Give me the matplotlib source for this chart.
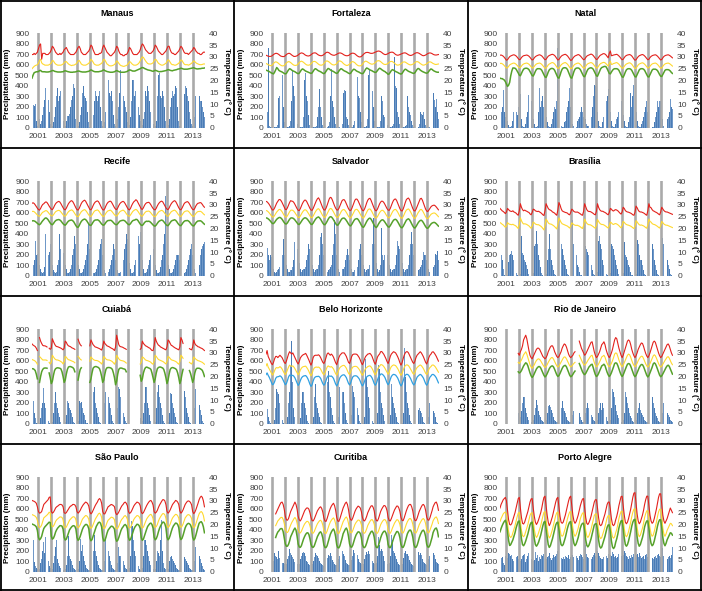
import numpy as np
import matplotlib.pyplot as plt
from matplotlib.lines import Line2D

plt.rcParams['font.family'] = ['Liberation Sans', 'DejaVu Sans']


def series(text):
    return np.array([np.nan if v == '-' else float(v) for v in text.split()])


# monthly values, one row per year (Jan 2001 .. Jun 2014), '-' = missing

MANAUS_RAIN = """
350 220 210 230 60 20 10 80 40 60 120 200
260 380 380 260 150 40 10 20 50 100 200 300
380 250 300 350 200 60 15 20 60 110 110 130
200 260 300 420 380 80 20 15 50 120 200 330
400 300 280 250 150 50 10 15 60 120 250 350
300 250 300 350 200 60 20 20 50 150 300 450
330 300 350 250 120 40 15 20 80 200 330 550
380 300 250 200 150 50 20 30 100 250 450 450
300 350 300 200 120 60 20 30 80 150 350 300
400 350 250 150 100 40 15 20 60 300 500 520
300 280 350 300 200 60 20 25 80 200 280 350
300 320 400 380 200 60 20 30 100 200 320 400
380 300 250 150 80 40 15 30 100 300 530 430
300 250 250 200 150 100
"""
MANAUS_TMAX = """
31 31 31.5 31 31.5 32 33.5 35 35.5 29 31.5 31.5
31.5 31 31 31 31.5 32 33 34.5 34 33 32 31.5
31 31 31.5 31 31.5 32 33 33.5 34 33 32 31.5
31 31 31 31 31.5 32 33 34 34.5 33.5 32 31.5
31 31 31 31.5 32 32.5 33.5 35 34.5 33 32 31
31 31 31 31.5 31.5 32 34 35 34 33 32 31.5
31 30.5 30.5 31 31.5 32 33 34.5 34 32.5 31.5 31
31 30.5 30.5 31 31 31.5 32.5 34 33.5 32.5 31.5 31
31 31 31 31.5 32 33 34.5 35.5 35 34 33 32.5
32 31.5 31.5 31.5 32 32.5 33.5 35 34.5 33.5 32.5 32
31.5 31 31 31.5 32 32.5 33.5 34.5 34.5 33 32 31.5
31.5 31 31 31.5 32 32.5 33.5 34.5 34 33 32 31.5
31.5 31.5 31 31.5 32 32.5 33 34 33.5 32.5 32 31.5
31.5 31 31 31.5 32 32
"""
MANAUS_TMEAN = """
25 25.5 26 26.3 26.5 26.7 27.3 28.5 29 27.5 27 26.8
26.5 26.5 26.5 26.5 26.7 27 27.5 28.5 28.3 27.5 27 26.7
26.5 26.5 26.5 26.5 26.7 27 27.5 28 28 27.5 27 26.7
26.5 26.3 26.5 26.5 26.7 27 27.5 28.3 28.5 27.8 27 26.7
26.5 26.5 26.5 26.7 27 27.3 28 29 28.5 27.8 27 26.7
26.5 26.5 26.5 26.7 27 27.3 28 29 28.7 27.8 27 26.7
26.3 26.2 26.2 26.3 26.5 26.8 27.3 28.3 28 27.3 26.7 26.3
26.2 26 26 26.2 26.3 26.7 27.2 28 27.8 27.2 26.8 26.5
26.5 26.5 26.7 27 27.5 28.3 29.3 30 29.8 29 28.3 27.7
27.2 27 27 27 27.2 27.5 28.3 29 28.8 28 27.3 27
26.7 26.5 26.5 26.7 27 27.3 28 28.8 28.5 27.7 27 26.7
26.7 26.5 26.5 26.7 27 27.3 28 28.7 28.5 27.7 27 26.7
26.7 26.7 26.5 26.7 27 27.3 27.8 28.3 28 27.5 27.2 27
26.8 26.7 26.7 26.8 27 27
"""
MANAUS_TMIN = """
21 22.3 23.3 23.5 23.7 23.7 23.8 24.2 24.3 23.8 23.7 23.7
23.7 23.6 23.6 23.6 23.7 23.8 24 24.2 24.2 23.9 23.8 23.7
23.6 23.6 23.6 23.6 23.7 23.7 24 24.1 24 23.8 23.7 23.6
23.5 23.5 23.5 23.6 23.6 23.7 23.9 24 24 23.8 23.7 23.6
23.6 23.6 23.6 23.7 23.8 23.9 24.2 24.5 24.3 24 23.8 23.7
23.7 23.7 23.7 23.8 23.9 24 24.3 24.5 24.2 24 23.8 23.7
23.6 23.5 23.5 23.5 23.6 23.7 24 24.2 24 23.8 23.6 23.5
23.5 23.5 23.5 23.6 23.7 23.9 24.2 24.5 24.4 24.2 24 24
24 24.2 24.4 24.6 24.8 25 25.3 25.5 25.4 25.1 24.9 24.7
24.5 24.4 24.3 24.2 24 23.9 24.1 24.3 24.2 24 23.8 23.7
23.8 23.8 23.9 24 24.1 24.2 24.4 24.6 24.5 24.3 24.2 24.1
24.3 24.4 24.5 24.6 24.8 24.9 25 25.2 25.1 24.9 24.8 24.8
24.8 24.8 24.9 25 25.1 25.2 25.3 25.4 25.2 25 24.9 24.9
25 25 25.1 25.2 25.2 25.3
"""

FORTALEZA_RAIN = """
100 150 760 20 10 5 0 0 5 5 10 30
280 300 350 500 200 50 10 5 5 10 20 60
250 550 400 300 150 40 10 5 5 10 10 100
450 520 300 250 120 30 10 5 5 5 10 20
100 200 370 200 100 30 10 5 5 5 20 50
300 560 250 200 100 40 10 5 5 5 10 40
330 360 350 100 80 30 10 5 5 10 30 60
300 480 300 280 150 50 15 5 5 10 20 80
500 550 300 350 200 60 20 5 5 5 10 60
300 250 120 100 60 30 10 5 5 10 20 40
670 400 380 150 100 40 10 5 5 10 20 30
300 200 150 120 60 30 10 5 5 5 10 40
150 130 120 150 80 30 10 5 5 10 60 100
330 260 200 270 150 80
"""
FORTALEZA_TMAX = """
30.7 30.5 30.3 30.2 30.2 30.3 30.6 31 31.3 31.5 31.5 31.3
31 30.6 30.3 30.2 30.1 30.2 30.5 31 31.3 31.5 31.5 31.2
30.8 30.5 30.2 30.2 30.3 30.5 30.8 31.2 31.5 31.7 31.6 31.4
31 30.7 30.5 30.4 30.4 30.6 30.9 31.3 31.6 31.7 31.7 31.5
31.1 30.8 30.6 30.5 30.5 30.7 31 31.4 31.8 32 31.9 31.7
31.3 31 30.8 30.7 30.7 30.9 31.1 31.4 31.6 31.7 31.6 31.4
31.1 30.8 30.6 30.5 30.5 30.6 30.9 31.3 31.5 31.6 31.5 31.3
30.9 30.5 30.2 30 30 30.2 30.6 31.1 31.5 31.8 31.9 31.9
31.8 31.6 31.5 31.5 31.6 31.8 32 32.2 32.4 32.5 32.4 32.2
31.9 31.5 31.2 31 31 31.2 31.4 31.7 31.9 32 32 31.8
31.4 31 30.8 30.7 30.8 31 31.2 31.4 31.6 31.7 31.7 31.5
31.2 30.9 30.7 30.6 30.7 30.9 31.2 31.5 31.7 31.8 31.7 31.5
31.2 30.9 30.6 30.5 30.6 30.8 31.1 31.4 31.6 31.7 31.6 31.4
31.1 30.9 30.8 30.8 30.9 31
"""
FORTALEZA_TMEAN = """
27.2 27 26.7 26.5 26.3 26.3 26.6 27.2 27.7 27.9 27.8 27.5
27.1 26.7 26.4 26.2 26.2 26.4 26.8 27.4 27.8 28 27.9 27.6
27.2 26.8 26.5 26.4 26.4 26.6 27 27.6 28 28.2 28 27.7
27.3 26.9 26.6 26.5 26.5 26.7 27.1 27.6 28 28.1 28 27.7
27.3 26.9 26.6 26.5 26.5 26.7 27.2 27.8 28.2 28.3 28.1 27.8
27.4 27 26.7 26.6 26.6 26.8 27.2 27.8 28.2 28.3 28.1 27.8
27.3 26.9 26.6 26.4 26.4 26.6 27 27.5 27.9 28 27.8 27.5
27 26.6 26.3 26.2 26.2 26.4 26.9 27.5 28 28.2 28.1 27.8
27.5 27.2 27 26.9 27 27.2 27.6 28 28.3 28.4 28.3 28
27.6 27.2 26.9 26.8 26.8 27 27.3 27.7 28 28.1 28 27.7
27.3 26.9 26.6 26.5 26.6 26.8 27.1 27.5 27.8 27.9 27.8 27.5
27.2 26.9 26.7 26.6 26.7 26.9 27.2 27.6 27.9 28 27.9 27.6
27.2 26.9 26.6 26.5 26.6 26.8 27.1 27.5 27.8 27.9 27.8 27.5
27.2 27 26.8 26.8 26.9 27
"""
FORTALEZA_TMIN = """
24.4 24.2 24 23.8 23.5 23.2 23 22.8 23.5 24.5 25.5 25
24.3 24 23.8 23.6 23.3 23 22.8 23 23.8 24.5 25 24.8
24.4 24.1 23.9 23.7 23.4 23.1 22.9 23.1 23.8 24.5 24.9 24.7
24.3 24 23.8 23.6 23.4 23.2 23 23.2 23.9 24.6 25 24.8
24.4 24.1 23.9 23.7 23.4 23.1 22.9 23.2 23.9 24.6 25.1 24.9
24.5 24.2 24 23.8 23.5 23.2 23 23.3 24 24.6 25 24.8
24.4 24.1 23.9 23.7 23.4 23.1 22.9 23.1 23.8 24.4 24.8 24.6
24.2 23.9 23.7 23.5 23.2 23 22.9 23.2 24 24.8 25.3 25.1
24.8 24.5 24.3 24.1 23.8 23.6 23.4 23.6 24.2 24.8 25.2 25
24.6 24.3 24 23.8 23.4 23.1 22.6 22.8 23.5 24.2 24.6 24.4
24.1 23.8 23.6 23.4 23.1 22.9 22.7 23 23.7 24.4 24.8 24.6
24.2 23.9 23.7 23.5 23.3 23.1 23 23.3 24 24.7 25.1 24.9
24.4 24.1 23.8 23.6 23.4 23.2 23.1 23.3 23.9 24.5 24.9 24.7
24.3 24 23.8 23.6 23.5 23.5
"""

NATAL_RAIN = """
100 150 200 360 150 100 80 60 30 10 10 20
60 150 480 150 120 200 150 320 80 20 10 10
40 100 150 310 200 250 150 80 40 10 10 20
150 380 200 250 300 200 180 100 50 20 10 10
40 80 150 200 180 250 760 120 60 20 10 10
50 60 150 200 250 380 200 80 40 20 10 10
60 80 100 150 200 150 100 100 80 40 20 20
80 100 200 300 410 400 250 150 60 20 10 10
50 100 150 250 300 370 300 150 60 20 10 10
40 80 100 150 200 250 200 120 60 20 10 10
50 100 330 200 300 410 410 150 60 20 10 10
40 60 100 150 200 250 150 100 50 20 10 10
50 100 150 250 200 250 250 150 80 20 10 60
80 100 150 270 200 180
"""
NATAL_TMAX = """
30.7 30.8 30.6 30.3 29.8 29.2 28.6 28.8 29.5 30.1 30.4 30.6
30.8 30.9 30.7 30.4 29.9 29.3 28.8 29 29.7 30.2 30.5 30.6
30.7 30.8 30.6 30.3 29.8 29.2 28.7 28.9 29.6 30.1 30.4 30.6
30.8 30.9 30.7 30.4 29.9 29.3 28.8 29 29.7 30.3 30.6 30.8
31 31.1 30.9 30.6 30 29.3 28.7 28.9 29.6 30.2 30.6 30.8
31 31.1 30.8 30.4 29.8 29.1 28.5 28.7 29.4 30 30.4 30.6
30.8 31 30.8 30.4 29.9 29.3 28.8 29 29.7 30.3 30.6 30.8
31 31.2 31 30.6 30 29.4 28.9 29.1 29.8 30.4 30.8 31
31.3 31.4 31.2 30.8 30.2 29.6 31.5 32.5 30.5 30.6 30.8 30.9
31 31.1 30.8 30.4 29.9 29.3 28.8 29 29.7 30.3 30.6 30.8
30.9 31 30.8 30.4 29.8 29.1 28.6 28.8 29.5 30.1 30.5 30.7
30.9 31 30.8 30.4 29.9 29.3 28.8 29 29.7 30.2 30.5 30.7
30.8 30.9 30.7 30.3 29.8 29.2 28.7 28.9 29.6 30.2 30.5 30.7
30.8 30.9 30.7 30.4 30 29.6
"""
NATAL_TMEAN = """
27.2 27.3 27.1 26.8 26.3 25.8 25.3 25.4 26 26.6 26.9 27.1
27.3 27.4 27.2 26.9 26.4 25.9 25.4 25.5 26.1 26.7 27 27.2
27.3 27.4 27.2 26.9 26.4 25.8 25.3 25.4 26 26.6 27 27.2
27.3 27.4 27.2 26.8 26.3 25.7 25.2 25.3 25.9 26.6 27 27.2
27.5 27.6 27.4 27 26.4 25.7 25.1 25.2 25.9 26.6 27 27.3
27.5 27.6 27.3 26.9 26.3 25.6 25 25.1 25.8 26.5 26.9 27.1
27.3 27.4 27.2 26.8 26.3 25.7 25.2 25.3 26 26.7 27.1 27.3
27.5 27.6 27.4 27 26.4 25.8 25.3 25.4 26.1 26.8 27.2 27.4
27.6 27.7 27.5 27.1 26.6 26.1 27.3 28.2 26.8 26.9 27.2 27.3
27.5 27.6 27.3 26.9 26.3 25.7 25.2 25.3 26 26.6 27 27.2
27.4 27.5 27.3 26.9 26.3 25.6 25.1 25.2 25.9 26.6 27 27.2
27.4 27.5 27.3 26.9 26.4 25.8 25.3 25.4 26 26.6 27 27.2
27.3 27.4 27.2 26.8 26.3 25.7 25.2 25.3 26 26.6 27 27.2
27.3 27.4 27.2 26.9 26.5 26.1
"""
NATAL_TMIN = """
21 20.8 20.8 20.5 20.2 19.5 18.5 17.5 18 19.2 22 24
25.3 25.3 25.2 24.8 24 23.2 22.3 22 23 24 24.8 25.1
25.2 25.2 25 24.6 23.8 22.9 22.1 21.9 22.8 23.9 24.7 25
25 25 24.8 24.3 23.4 22.4 21.5 21.3 22.3 23.6 24.5 24.9
25.1 25.1 24.9 24.3 23.3 22.2 21.2 21 22.2 23.7 24.8 25.3
25.4 25.4 25.2 24.6 23.5 22.3 21.2 21 22.3 23.8 24.8 25.2
25.3 25.3 25.1 24.6 23.7 22.7 21.8 21.6 22.6 23.8 24.7 25.1
25.3 25.4 25.2 24.8 23.9 22.9 22 21.8 22.9 24.1 25 25.5
25.7 25.9 26 25.8 25 24 23 22.8 23.6 24.3 24.8 25
25 25 24.8 24.3 23.4 22.4 21.5 21.4 22.4 23.6 24.5 24.9
25 25 24.8 24.3 23.4 22.4 21.6 21.5 22.5 23.6 24.5 24.9
25 25 24.8 24.3 23.4 22.4 21.6 21.5 22.5 23.6 24.4 24.8
24.8 24.8 24.6 24.2 23.4 22.5 21.8 21.7 22.6 23.6 24.3 24.6
24.6 24.6 24.4 24 23.4 23
"""

RECIFE_RAIN = """
60 100 150 330 200 210 120 100 60 40 30 40
80 400 150 200 230 300 200 100 50 40 30 40
100 150 400 250 200 220 150 100 60 30 30 40
60 100 200 250 380 300 200 100 60 30 30 40
60 100 150 200 300 490 250 100 60 30 30 40
60 100 150 250 300 350 200 100 50 30 30 40
60 100 150 200 300 250 150 100 50 30 30 40
80 150 250 300 400 350 200 120 60 30 30 40
100 150 200 380 300 420 300 150 60 30 30 40
60 100 150 200 250 250 200 100 50 30 30 40
80 150 200 300 400 760 250 100 60 30 30 40
60 100 150 200 200 200 150 100 50 30 30 40
60 100 150 200 250 300 200 100 60 30 30 40
100 200 250 280 300 320
"""
RECIFE_TMAX = """
30.7 30.9 30.6 30 29.3 28.6 28 27.8 28.5 29.5 30.2 30.5
31 31.3 31 30.3 29.5 28.8 28.2 28 28.7 29.7 30.5 31
31.3 31.5 31.2 30.5 29.6 28.8 28.1 27.9 28.6 29.6 30.5 31.1
31.6 31.8 31.4 30.6 29.6 28.7 28 27.8 28.5 29.6 30.6 31.3
31.7 32 31.6 30.7 29.7 28.8 28.1 27.9 28.6 29.7 30.6 31.2
31.5 31.7 31.4 30.6 29.6 28.7 28 27.8 28.5 29.6 30.5 31.1
31.4 31.6 31.3 30.5 29.6 28.8 28.2 28 28.7 29.7 30.5 31
31.3 31.5 31.2 30.5 29.6 28.8 28.1 27.9 28.6 29.7 30.6 31.3
31.7 32.2 31.8 30.9 29.9 29 28.3 28.1 28.8 29.8 30.5 30.9
31 31.1 30.7 30 29.2 28.5 28 27.9 28.6 29.6 30.4 31
31.4 31.6 31.3 30.5 29.6 28.8 28.2 28 28.7 29.7 30.5 31.1
31.5 31.8 31.5 30.7 29.7 28.8 28.1 27.9 28.6 29.6 30.5 31
31.2 31.4 31.1 30.4 29.5 28.7 28.1 27.9 28.6 29.6 30.3 30.7
30.8 31 30.8 30.2 29.5 29
"""
RECIFE_TMEAN = """
27.2 27.3 27.1 26.7 26.2 25.7 25.3 25.2 25.7 26.4 26.9 27.1
27.4 27.6 27.4 26.9 26.3 25.8 25.4 25.3 25.8 26.5 27.1 27.4
27.6 27.7 27.5 27 26.4 25.8 25.3 25.2 25.7 26.5 27.1 27.5
27.7 27.9 27.6 27 26.3 25.6 25.1 25 25.6 26.4 27.1 27.5
27.8 28 27.7 27.1 26.4 25.7 25.2 25.1 25.7 26.5 27.2 27.6
27.7 27.9 27.6 27 26.3 25.7 25.2 25.1 25.7 26.5 27.1 27.5
27.6 27.8 27.5 27 26.4 25.8 25.4 25.3 25.8 26.5 27.1 27.4
27.6 27.8 27.5 27 26.3 25.7 25.3 25.2 25.8 26.5 27.2 27.6
27.9 28.1 27.8 27.2 26.5 25.8 25.3 25.2 25.8 26.5 27 27.3
27.3 27.4 27.1 26.6 26 25.5 25.1 25 25.6 26.3 26.9 27.3
27.5 27.7 27.5 27 26.4 25.8 25.3 25.2 25.8 26.5 27.1 27.4
27.6 27.8 27.5 27 26.3 25.7 25.2 25.1 25.7 26.4 27 27.3
27.4 27.5 27.3 26.8 26.2 25.6 25.2 25.1 25.7 26.4 26.9 27.2
27.2 27.3 27.1 26.7 26.2 25.8
"""
RECIFE_TMIN = """
23.2 23.3 23.2 23 22.6 22.2 21.8 21.6 22 22.7 23.3 23.8
24.3 24.5 24.2 23.7 23 22.3 21.8 21.6 22.1 22.8 23.3 23.6
23.7 23.8 23.6 23.2 22.6 22 21.6 21.4 21.9 22.6 23.1 23.4
23.5 23.6 23.3 22.8 22 21.2 20.6 20.5 21.2 22.2 23 23.5
23.8 24 23.8 23.3 22.6 21.9 21.4 21.3 21.9 22.7 23.3 23.6
23.6 23.7 23.5 23.1 22.5 21.9 21.5 21.4 21.9 22.6 23.1 23.4
23.4 23.5 23.4 23 22.5 22 21.7 21.6 22 22.6 23.1 23.3
23.4 23.5 23.4 23.1 22.6 22.1 21.7 21.6 22.1 22.8 23.3 23.5
23.6 23.9 23.8 23.3 22.6 21.9 21.4 21.3 21.8 22.5 22.9 23.1
23 23.1 22.9 22.5 22 21.5 21.1 21 21.5 22.2 22.8 23.2
23.4 23.6 23.4 22.9 22.3 21.7 21.3 21.2 21.8 22.5 23.1 23.4
23.5 23.7 23.5 23 22.3 21.7 21.3 21.2 21.8 22.5 23 23.3
23.3 23.4 23.2 22.8 22.2 21.6 21.2 21.1 21.7 22.4 22.9 23.2
23.2 23.3 23.1 22.7 22.2 21.8
"""

SALVADOR_RAIN = """
100 260 200 150 200 180 120 60 40 30 40 50
60 80 120 200 350 200 150 100 60 40 40 50
50 80 150 320 300 250 200 120 60 40 50 60
60 80 150 200 300 250 180 100 60 40 50 60
60 100 200 370 410 300 200 100 60 40 50 60
80 100 200 300 530 400 200 120 60 40 50 60
60 80 150 200 250 200 150 100 60 40 40 50
50 80 150 250 300 200 150 100 60 40 50 60
60 100 200 300 550 300 200 120 60 40 50 100
450 200 150 200 250 200 150 100 60 40 50 60
60 100 200 330 280 250 200 120 60 40 50 60
60 100 200 300 420 300 200 100 60 40 50 60
80 100 150 230 200 200 150 100 60 40 50 60
80 100 210 200 240 150
"""
SALVADOR_TMAX = """
31.5 31.3 30.8 30.2 29.4 28.5 27.8 27.9 28.7 29.8 30.8 31.5
32.2 32.3 31.8 31 30 29 28.1 28 28.8 29.9 31 31.8
31.6 31.5 31 30.2 29.3 28.4 27.7 27.6 28.4 29.5 30.6 31.4
32 32 31.4 30.5 29.5 28.5 27.8 27.7 28.5 29.6 30.8 31.8
32.6 33 32.2 31 29.8 28.7 27.9 27.8 28.6 29.8 31.2 32.5
33.2 33 32 30.8 29.6 28.6 27.9 27.8 28.5 29.6 30.8 31.8
32.2 32.2 31.5 30.5 29.4 28.4 27.7 27.6 28.4 29.6 30.9 32
32.5 32.4 31.7 30.7 29.6 28.5 27.7 27.5 28.3 29.5 30.9 32
32.6 32.8 32 30.8 29.6 28.5 27.7 27.5 28.2 29.3 30.4 31.2
31.6 31.5 31 30.2 29.3 28.4 27.8 27.7 28.5 29.7 30.9 31.9
32.4 32.5 31.8 30.7 29.5 28.4 27.6 27.4 28.2 29.5 31 32.2
32.7 32.9 32.2 31 29.7 28.5 27.6 27.4 28.1 29.2 30.4 31.3
32.6 32.8 32 30.7 29.4 28.2 27.4 27.2 27.8 28.5 29.2 29.6
29.8 29.9 29.6 29.1 28.5 27.9
"""
SALVADOR_TMEAN = """
27.6 27.5 27.1 26.6 26 25.3 24.8 24.9 25.5 26.3 27 27.5
28 28.1 27.7 27.1 26.3 25.5 24.9 24.8 25.4 26.3 27.1 27.7
27.8 27.7 27.3 26.7 26 25.3 24.7 24.6 25.3 26.1 26.9 27.5
27.9 27.9 27.5 26.8 26.1 25.3 24.7 24.6 25.3 26.2 27 27.7
28.2 28.4 27.9 27.1 26.2 25.4 24.8 24.7 25.3 26.2 27.2 28
28.5 28.4 27.8 27 26.1 25.3 24.8 24.7 25.3 26.1 27 27.7
28 28 27.5 26.8 26 25.2 24.6 24.5 25.2 26.1 27 27.8
28.1 28.1 27.6 26.9 26 25.2 24.6 24.4 25.1 26 27 27.8
28.2 28.3 27.8 27 26.1 25.2 24.6 24.4 25 25.9 26.7 27.3
27.7 27.7 27.3 26.7 25.9 25.2 24.6 24.5 25.2 26.1 27 27.7
28 28.1 27.6 26.9 26 25.1 24.5 24.3 25 26 27 27.8
28.1 28.3 27.8 27 26.1 25.2 24.5 24.3 24.9 25.8 26.7 27.3
28 28.1 27.6 26.8 25.9 25 24.3 24.2 24.7 25.4 26 26.3
26.5 26.6 26.4 26 25.5 25
"""
SALVADOR_TMIN = """
24.5 24.4 24.1 23.7 23.2 22.6 22.1 22.1 22.6 23.3 23.9 24.3
24.6 24.7 24.4 23.9 23.2 22.5 22 21.9 22.4 23.2 23.9 24.4
24.5 24.4 24.1 23.6 23 22.4 21.8 21.7 22.3 23 23.7 24.2
24.5 24.5 24.2 23.7 23.1 22.4 21.8 21.7 22.3 23.1 23.8 24.4
24.7 24.9 24.5 23.9 23.1 22.3 21.7 21.6 22.2 23 23.9 24.6
25 24.9 24.4 23.7 22.9 22.1 21.5 21.4 22 22.8 23.6 24.2
24.4 24.4 24 23.4 22.7 21.9 21.3 21.1 21.7 22.5 23.3 23.9
24.1 24.2 23.8 23.1 22.3 21.4 20.7 20.5 21.2 22.1 23 23.7
24.2 24.4 24 23.2 22.3 21.4 20.7 20.4 21 21.9 22.6 23.2
23.6 23.7 23.3 22.7 22 21.3 20.7 20.6 21.2 22 22.8 23.5
23.8 23.9 23.5 22.8 22 21.1 20.5 20.3 20.9 21.8 22.7 23.5
23.9 24.1 23.7 22.9 22 21.1 20.4 20.2 20.8 21.6 22.4 23
23.4 23.5 23.1 22.4 21.6 20.8 20.2 20.1 20.6 21.3 21.9 22.3
22.5 22.6 22.4 22 21.5 21
"""

BRASILIA_RAIN = """
100 200 150 60 10 0 0 10 130 200 210 240
200 150 80 30 5 0 0 20 380 220 200 150
130 100 60 20 5 0 0 30 280 300 430 300
200 150 80 30 5 0 0 20 150 250 400 250
150 100 50 20 5 0 0 30 420 300 250 200
150 100 60 20 5 0 0 20 530 300 280 200
100 80 40 10 5 0 0 20 280 250 230 200
150 100 50 20 5 0 0 40 330 380 300 250
150 100 50 20 5 0 0 30 300 280 250 200
150 100 60 20 5 0 0 30 320 200 180 150
100 80 40 10 5 0 0 20 340 300 200 150
150 100 50 20 5 0 0 30 450 480 300 250
150 100 50 20 5 0 0 30 360 300 370 250
150 100 60 20 5 0
"""
BRASILIA_TMAX = """
28.5 28 27.5 27.2 26.8 26.3 27 28.5 28 27.5 27.3 27.2
27.5 27 26.8 26.5 26 25.6 27.5 30.5 29 28 27.5 27.8
27.5 27.3 27 26.8 26.2 25.8 26.8 28.2 28 27.5 27.3 27.2
27.3 27 26.7 26.3 25.8 25.5 27.5 30.5 29.5 28.5 28 27.8
27.5 27 26.8 26.5 26 25.6 27.8 31 30 28.5 27.5 27.2
27 26.8 26.7 26.5 26 25.8 26.8 28.2 27.8 27.2 27 26.9
27 26.8 26.5 26.2 25.8 25.6 27.2 30.5 29.2 28 27.4 27.2
27.2 27 26.7 26.4 26 25.8 27.3 30.5 29 28 27.5 27.3
27.3 27 26.8 26.5 26.1 25.8 26.8 28.5 28.2 27.6 27.4 27.8
28 27.8 27.5 27 26.5 26.1 27 29 28.5 27.6 27.2 27
26.9 26.7 26.5 26.2 25.8 25.6 26.8 29.5 28.8 27.8 27.2 27
27 26.8 26.6 26.3 25.9 25.6 27.5 30.5 29 28.8 28 27.5
27.3 27 26.8 26.5 26.1 25.8 27 29 28.3 27.6 27.2 27
27 26.8 26.6 26.4 26.2 26
"""
BRASILIA_TMEAN = """
22.5 22.2 21.8 21.5 21 20.5 21 22.5 22 21.8 21.7 21.6
21.8 21.5 21.3 21 20.5 20 21.8 24.5 23.3 22.4 21.9 22
21.9 21.7 21.4 21.1 20.6 20.1 21 22.7 22.4 21.9 21.7 21.6
21.6 21.3 21 20.6 20 19.4 21.3 24 23.3 22.4 22 21.9
21.8 21.5 21.2 20.8 20.3 19.8 21.8 24.5 23.6 22.6 22 21.8
21.6 21.4 21.2 21 20.6 20.2 21 22.4 22 21.6 21.4 21.3
21.4 21.2 21 20.7 20.3 20 21.3 24 23 22.2 21.8 21.6
21.6 21.4 21.1 20.8 20.4 20.1 21.4 23.8 23 22.3 21.9 21.7
21.7 21.5 21.2 20.9 20.5 20.2 21.1 22.7 22.4 21.9 21.7 22
22.1 21.9 21.6 21.2 20.7 20.3 21.2 23 22.6 22 21.7 21.5
21.4 21.2 21 20.7 20.3 20 21 23.3 22.8 22.1 21.6 21.4
21.5 21.3 21.1 20.8 20.4 20.1 21.6 24 23 22.7 22.1 21.8
21.7 21.5 21.2 20.9 20.5 20.2 21.2 23 22.5 21.9 21.6 21.4
21.4 21.2 21 20.8 20.6 20.4
"""

CUIABA_RAIN = """
120 220 100 50 10 5 0 10 50 150 200 340
200 150 80 30 10 0 0 20 100 200 300 200
150 100 60 20 5 0 0 20 80 220 200 150
130 100 60 20 5 0 0 30 220 200 210 150
100 80 40 10 5 0 0 20 100 300 350 200
150 100 60 20 5 0 0 20 200 300 350 250
200 150 80 30 5 0 0 30 150 350 330 250
150 100 60 30 10 - - - - - - -
- - - - - 50 20 30 100 200 350 350
200 150 80 30 5 0 0 20 150 300 370 250
200 150 80 30 5 0 0 20 100 290 280 200
150 100 60 20 5 0 0 20 100 200 310 250
150 100 60 20 5 0 0 30 150 330 260 200
180 130 80 30 10 0
"""
CUIABA_TMAX = """
33.8 33.3 33 32.7 32 31 - 36.5 35 34 33.2 33
33 32.8 32.5 - 32 31.5 32 36 34.8 33.8 33 32.7
32.6 32.4 32.2 32 31.7 31.3 32 35 34.5 33.5 33 32.8
32.6 32.2 32 31.8 31.5 - - 35.8 34.5 33.5 33 -
- - - - - - 33 35.5 34.5 33.5 33 32.5
32.4 32.2 32 31.8 31.5 31.2 32.5 35 34 33.5 33 32.8
32.6 32.3 32 31.8 31.5 31 32.5 37.5 35.5 33.5 32.8 32.6
32.5 32.3 32 31.8 31.5 - - - - - - -
- - - - - 31.5 32 35 34 33.5 33 32.8
32.5 32.2 32 31.5 31 31 33 36.5 35 34 33.3 33
32.5 32.3 32 31.8 31.5 31.3 32.5 35.5 35 34 33.2 33
32.6 32.3 32 31.8 31.5 31.3 32.5 36.5 35.5 34 - -
- - - 31.8 31.5 31.3 32.5 35.5 34 33.3 33 32.6
32.5 32.2 32 31.8 31.4 31
"""
CUIABA_TMEAN = """
27.2 27 26.8 26.5 26 25.2 - 28.5 28 27.5 27 27
27 27 26.8 - 26 25.3 26 29 28.3 27.6 27.2 27
27 26.8 26.6 26.3 26 25.3 26.2 28.5 28.2 27.5 27.1 27
26.8 26.6 26.4 26.2 25.8 - - 28.5 28 27.3 27 -
- - - - - - 26.5 28.3 27.8 27.3 27 26.8
26.8 26.7 26.5 26.2 25.8 25.3 26.3 28.5 28 27.4 27.1 27
27 26.8 26.6 26.3 25.8 25.2 26.3 29 28.3 27.5 27 26.8
26.7 26.6 26.4 26.1 25.7 - - - - - - -
- - - - - 25.3 26 28.3 28 27.5 27 26.8
26.7 26.5 26.3 26 25.5 25.2 26.5 29 28.5 27.8 27.2 27
26.8 26.6 26.4 26.1 25.7 25.3 26.3 28.5 28.2 27.6 27.1 26.9
26.8 26.6 26.4 26.1 25.6 25.2 26.3 29 28.5 27.7 - -
- - - 26 25.6 25.3 26.2 28.3 27.8 27.3 27 26.7
26.6 26.4 26.2 26 25.6 25.2
"""
CUIABA_TMIN = """
23.3 23.3 23 22.5 21 19 - 17.5 20 22 23 23.5
23.6 23.6 23.5 - 21.5 19.5 17 18 20.5 22.5 23.3 23.6
23.7 23.6 23.5 23.2 22 20 17.5 18.5 21 23 24 24.2
24.2 24 23.8 23.3 22 - - 18.5 21 23 23.7 -
- - - - - - 17.5 19 21.5 23.5 24 24.2
24.2 24 23.8 23.3 22 20 17.5 18.5 21 23 23.7 23.8
23.8 23.7 23.5 23 21.5 19.5 16.5 18 21 23 23.5 23.6
23.5 23.3 23.2 23 22 - - - - - - -
- - - - - 20.5 18 19 21.5 23 23.8 24
23.8 23.6 23.4 23 21.5 19.5 17.5 19 21.5 23.3 23.8 24
24 23.8 23.6 23 21.5 19.5 17 18.5 21 23 23.6 23.8
23.7 23.5 23.3 22.8 21.5 19.5 17 18.5 21 23 - -
- - - 22.5 21.3 19.5 17.5 19 21.5 23 23.5 23.5
23.5 23.3 23 22.6 21.5 20
"""

BELO_RAIN = """
170 140 60 30 10 0 0 10 40 150 330 300
280 200 100 40 10 0 0 10 60 200 300 550
790 400 150 60 20 0 0 10 50 200 300 300
200 150 80 30 10 0 0 10 60 250 380 200
150 100 60 20 5 0 0 10 80 400 500 300
250 150 80 30 10 0 0 10 60 350 350 300
300 200 100 40 10 0 0 10 80 360 300 250
200 150 80 30 10 0 0 10 60 620 450 350
250 150 80 30 10 0 0 10 100 560 520 300
200 150 80 30 10 0 0 10 80 380 250 200
150 100 60 20 5 0 0 10 100 720 450 300
200 150 80 30 10 0 0 10 60 200 130 150
120 100 60 20 5 0 0 10 60 200 240 150
120 100 60 20 5 0
"""
BELO_TMAX = """
29.5 31 28.5 27.5 26.5 25.5 25 26 27.5 28.5 28.5 28
28.5 29 28.5 28 27 26 25.5 26.5 28 29.5 30.5 30
29.5 30 29 28 27 26 25.3 26.3 27.8 28.5 29 29.3
29.5 29.8 29 28 27 25.8 24.8 26 28 28.8 29 29
29 29.2 28.8 28 27 26 25.5 26.5 28 29.5 30 29.5
29 29.5 29 28.2 27 25.8 25 26.5 28 29 29.5 30
30 30 29.3 28.5 27.3 26 25.5 27 28.5 29.3 29.5 29.5
29.5 29.3 28.7 28 27 25.8 25 26 27.5 28.5 29 29.5
29.6 29.8 29.3 28.5 27.3 26 25.2 26.5 28.2 29 29.5 30.5
30.6 30 29.4 28.5 27.5 26.3 25.5 26.8 28.5 29.5 30 30.5
30.3 30 29.2 28.3 27.2 25.8 24.8 25.8 27.5 29 30 30.5
30.5 30 29 28 27 26 25.5 26.5 28 29 29.5 30
30.5 30 29.2 28.3 27.2 26 25.3 26.5 28 29 29.5 30.3
30.5 30 29.3 28.5 27.5 26.5
"""
BELO_TMEAN = """
24.5 25.5 24 23.2 22.3 21.3 20.6 21.3 22.5 23.5 23.8 23.6
23.8 24.2 23.8 23.2 22.3 21.4 20.8 21.6 22.8 24 24.8 24.5
24.3 24.5 24 23.3 22.4 21.5 20.7 21.5 22.7 23.5 24 24.2
24.3 24.4 23.8 23.1 22.2 21.1 20.3 21.2 22.8 23.6 23.9 24
23.9 24 23.7 23.1 22.2 21.3 20.7 21.5 22.8 24 24.5 24.2
24 24.2 23.8 23.2 22.2 21.2 20.5 21.6 22.9 23.8 24.2 24.5
24.7 24.7 24.2 23.5 22.5 21.4 20.8 22 23.2 24 24.2 24.3
24.3 24.1 23.6 23 22.2 21.2 20.5 21.3 22.5 23.4 23.8 24.2
24.4 24.5 24.1 23.4 22.5 21.4 20.7 21.6 23 23.8 24.3 25
25 24.7 24.2 23.5 22.6 21.6 20.9 21.9 23.3 24.2 24.6 24.9
24.8 24.6 24 23.3 22.4 21.3 20.5 21.2 22.6 23.8 24.6 24.9
24.9 24.6 23.9 23.1 22.3 21.4 20.9 21.7 23 23.8 24.2 24.6
24.9 24.6 24 23.3 22.4 21.4 20.8 21.7 23 23.8 24.2 24.8
24.9 24.6 24.1 23.4 22.6 21.8
"""
BELO_TMIN = """
20.8 21.5 20.5 19.7 18.6 17.4 16.5 16.8 17.8 19.2 19.8 19.9
20 20.3 20 19.4 18.4 17.3 16.5 17 18.3 19.8 20.6 20.4
20.4 20.5 20.1 19.4 18.3 17.1 16.2 16.9 18.2 19.3 19.9 20.2
20.3 20.4 19.9 19.1 18 16.7 15.8 16.5 18.1 19.3 19.8 20
20 20.1 19.8 19.2 18.1 17 16.3 16.9 18.2 19.6 20.3 20.2
20.1 20.2 19.8 19.2 18 16.8 16 16.8 18.2 19.5 20.1 20.5
20.7 20.7 20.2 19.5 18.3 17.1 16.4 17.3 18.7 19.8 20.2 20.3
20.3 20.1 19.6 19 18 16.8 16 16.7 18 19.3 19.8 20.2
20.4 20.5 20.1 19.4 18.3 17 16.3 17 18.5 19.7 20.3 21
21.1 20.8 20.3 19.6 18.5 17.3 16.5 17.3 18.8 20 20.6 20.9
20.8 20.6 20 19.3 18.2 16.9 16 16.7 18.1 19.6 20.5 20.9
20.9 20.6 19.9 19.1 18.1 17 16.4 17.1 18.5 19.7 20.2 20.6
20.9 20.6 20 19.3 18.2 17 16.3 17.1 18.5 19.7 20.2 20.8
20.9 20.6 20.1 19.4 18.4 17.3
"""

RIO_RAIN = """
- - - - - - - - - - - -
- - - - - 100 30 60 120 200 250 250
150 100 60 40 30 20 20 40 80 150 230 180
120 80 60 40 30 20 20 40 100 170 180 160
130 100 60 40 30 20 20 40 100 150 220 150
120 100 60 40 30 20 20 40 80 120 180 -
- - 100 60 40 20 20 40 100 150 200 150
120 80 60 40 30 20 20 40 100 150 200 130
200 150 100 60 30 20 20 40 150 330 300 250
180 120 80 50 30 20 20 40 100 300 250 200
150 100 70 50 30 20 20 40 100 150 200 130
100 80 60 40 30 20 20 40 150 340 250 200
150 100 70 50 30 20 20 40 100 200 150 100
100 80 60 40 30 20
"""
RIO_TMAX = """
- - - - - - - - - - - -
- - - - - 29.8 29 30.5 31.5 33 35.5 36.5
37.5 36 33.5 31 29 28 27.5 28.5 29.5 30.5 31.5 32
32 31.5 30.5 29.5 28.5 28 27.5 28 29 30.5 31.5 32.5
33 33 32 30.5 29.5 28.5 28 28.5 29.5 30.5 32 33
33.8 33.5 32.5 31 29.5 28.5 28 28.5 29 30 30.5 -
- - 35 33.5 32 31 30 29 29.5 30.5 31.5 32.5
33.5 34.5 34.7 32.5 30.5 29 28 28.5 29.5 30.5 32 33.5
34 34.7 33.5 31.5 30 28.8 28 28.8 30 31.5 33.5 35.5
36.5 36 34 32 30.5 29 28 29 30.5 32 33.5 35
35.5 35 33.5 31.5 30 28.8 28 28.8 30 31.5 32.5 33.5
34.2 34 32.8 31.2 29.8 28.7 28 28.8 30 31.5 33 34.5
35 34.5 33 31.5 30 28.8 28 28.5 29.5 30.5 31.5 32.5
33.5 33.8 33 31.5 30 29
"""
RIO_TMEAN = """
- - - - - - - - - - - -
- - - - - 26 25.5 26.2 27 28 29.2 29.8
30.5 29.5 28 26.5 25 24 23.5 24.2 25 26 26.8 27.3
27.5 27.2 26.6 25.8 25 24.3 23.8 24.2 25 26 26.8 27.5
28 28 27.3 26.3 25.4 24.5 24 24.5 25.3 26.1 27 27.8
28.3 28.2 27.5 26.5 25.4 24.6 24.1 24.4 25 25.6 26 -
- - 29 28 27 26 25.2 24.8 25.3 26 26.8 27.5
28.2 28.8 29 27.5 26 24.8 24.1 24.5 25.3 26.2 27.2 28.3
28.6 29 28.2 26.8 25.6 24.7 24.1 24.7 25.6 26.7 28 29.5
30 29.8 28.5 27 25.8 24.8 24.1 24.8 25.9 27 28 29
29.5 29.2 28.2 26.8 25.6 24.7 24.1 24.7 25.6 26.7 27.5 28.2
28.6 28.5 27.6 26.5 25.4 24.5 24 24.6 25.5 26.6 27.6 28.7
29.2 28.8 27.8 26.6 25.5 24.6 24 24.4 25.2 26 26.8 27.5
28.2 28.4 27.8 26.8 25.7 25
"""
RIO_TMIN = """
- - - - - - - - - - - -
- - - - - 22 21.5 21.8 22.5 23.5 24.5 25.2
25.8 25.5 24.5 23 21.5 20.3 19.6 20.2 21.2 22.2 23.2 23.8
24.2 24.2 23.6 22.6 21.5 20.5 19.8 20.3 21.2 22.3 23.3 24
24.4 24.5 24 23 21.8 20.7 20 20.4 21.3 22.4 23.4 24.2
24.6 24.7 24.1 23 21.8 20.6 19.9 20.2 20.9 21.7 22.3 -
- - 25.5 24.3 23 22 21.2 20.8 21.3 22.2 23.2 24
24.5 25 25.2 23.8 22.2 20.8 20 20.4 21.3 22.4 23.5 24.5
24.8 25.2 24.6 23.2 21.8 20.7 20 20.6 21.6 22.8 24.1 25.5
25.8 25.6 24.6 23.2 21.9 20.7 20 20.7 21.9 23.1 24.2 25.2
25.5 25.3 24.4 23.1 21.8 20.6 19.9 20.5 21.6 22.8 23.8 24.6
25.1 25 24.2 23 21.7 20.5 19.8 20.4 21.5 22.7 23.9 25.3
25.8 25.4 24.4 23.1 21.8 20.6 19.9 20.3 21.1 22 22.9 23.8
24.5 24.8 24.3 23.2 22 21
"""

SAOPAULO_RAIN = """
140 300 90 50 40 30 20 30 80 120 200 280
180 330 200 100 50 40 20 30 80 150 240 300
120 80 50 40 30 20 20 30 60 150 340 150
120 100 60 40 30 20 20 30 100 310 200 250
150 100 60 40 30 20 20 30 100 200 350 200
150 100 60 40 30 20 20 30 100 310 200 200
150 100 60 40 30 20 20 30 80 240 150 150
150 100 60 40 30 20 20 40 150 480 440 300
200 150 80 50 30 20 20 40 150 300 300 250
200 150 100 60 40 30 20 30 100 200 180 150
300 490 200 80 40 30 20 30 100 140 150 120
100 80 60 40 30 20 20 30 80 150 140 120
100 80 60 40 30 20 20 30 100 240 230 150
150 120 80 50 30 20
"""
SAOPAULO_TMAX = """
30.2 30 29.8 29.5 29 27.5 25.5 24.8 25 25.5 27 28.5
29 29.5 30 30.5 31.5 31.7 25.5 24.8 25.2 26 27 27.5
27.8 28.2 28.5 28.5 28.3 27.5 25 24.7 25 25.8 26.5 27.3
27.8 28 28.5 28.5 28.3 27.5 25.5 24.8 25.3 26 27 27.8
28.5 29 29.5 29.3 28.8 27.8 25.3 24.5 25 26 27 28
28.8 29.5 30.5 31 30.5 29 25.5 24.5 24.5 25.5 26.5 27.5
27.8 28.2 28.5 28.3 28 27.5 25 24.2 24.5 25.3 26.3 27.2
28 28.5 29.2 29.5 29 28 25.5 24.7 25 25.8 26.8 27.8
28.5 29 29.5 29.3 29 28 25.3 24.6 25 26 27 28
28.8 29.5 30 30.2 29.5 28.3 25.5 24.8 25.2 26 27.2 28.2
29 29.8 30.5 30.5 30 28.5 25.6 24.8 25.3 26.2 27.3 28.3
29 29.5 30.2 30 29.5 28.5 25.8 24.8 25.3 26.2 27.3 28.5
29.2 29.8 30 29.8 29.3 28.3 25.5 24.6 25.2 26.3 27.6 29
30.5 31.5 32 31.5 30 27.5
"""
SAOPAULO_TMEAN = """
24.2 24 23.8 23.5 23 21.8 19.5 18.7 19 19.8 21.3 22.8
23.2 23.6 24 24.5 25.2 25 19.8 19 19.3 20.2 21.3 22
22.4 22.8 23.2 23.2 23 22 19.2 18.6 18.9 19.8 20.8 21.8
22.3 22.8 23.2 23.3 23 22 19.4 18.6 19 19.9 21 22.2
22.8 23.3 23.8 23.7 23.2 22.2 19.2 18.4 18.8 19.9 21 22.2
23 23.7 24.5 24.8 24.3 23 19.4 18.3 18.4 19.5 20.8 21.8
22.2 22.7 23.1 23 22.7 22 19 18.1 18.4 19.3 20.5 21.6
22.3 22.8 23.5 23.8 23.3 22.3 19.4 18.5 18.8 19.8 21 22.1
22.8 23.3 23.8 23.7 23.3 22.3 19.3 18.5 18.9 20 21.2 22.3
23 23.6 24.1 24.3 23.7 22.5 19.5 18.7 19.1 20 21.4 22.5
23.3 24 24.6 24.6 24.1 22.7 19.6 18.7 19.2 20.2 21.5 22.6
23.3 23.8 24.3 24.2 23.7 22.7 19.8 18.8 19.2 20.2 21.5 22.8
23.4 24 24.2 24 23.5 22.5 19.5 18.6 19.1 20.3 21.8 23.2
24.5 25.2 25.5 25 23.8 21.5
"""
SAOPAULO_TMIN = """
20.2 20 19.8 19.5 19 17.5 14.5 13.5 14 15 16.8 18.3
19 19.5 20 20.5 21 20.8 15 13.8 14.2 15.3 16.8 17.8
18.5 19 19.5 19.5 19.3 18 14.5 13.4 13.8 15 16.4 17.7
18.4 19 19.4 19.5 19.2 18 14.5 13.3 13.8 15 16.5 17.9
18.9 19.5 20 20 19.5 18.2 14.3 13.1 13.6 15 16.5 17.9
19.2 20 20.8 21 20.5 19 14.5 13 13.2 14.6 16.3 17.6
18.2 18.8 19.3 19.2 18.8 18 14.2 12.9 13.3 14.5 16 17.4
18.4 19 19.7 20 19.5 18.3 14.5 13.3 13.7 15 16.5 17.9
18.9 19.5 20.1 20 19.5 18.3 14.4 13.3 13.8 15.2 16.7 18
19.2 19.8 20.4 20.6 20 18.5 14.6 13.5 14 15.2 16.9 18.3
19.4 20.2 21 21 20.3 18.7 14.7 13.5 14.1 15.4 17 18.4
19.4 20 20.6 20.5 20 18.7 15 13.6 14.1 15.4 17 18.6
19.6 20.2 20.5 20.3 19.8 18.5 14.6 13.4 14 15.5 17.3 19
20.5 21 21.2 20.5 19 16.5
"""

CURITIBA_RAIN = """
- - - - - - - 100 180 150 140 120
200 130 100 80 80 70 60 70 120 150 220 180
160 140 120 90 80 70 60 70 120 150 180 190
180 150 100 90 70 60 50 70 100 140 180 160
150 130 100 80 70 60 50 60 100 130 160 150
180 150 110 90 70 60 60 70 120 150 220 200
170 150 110 80 70 60 60 70 110 150 210 180
180 160 120 90 80 70 60 70 120 160 190 170
200 170 130 100 80 70 60 80 150 330 250 200
220 200 150 100 80 70 60 80 150 350 300 200
180 150 120 90 70 60 60 70 130 180 200 170
170 150 110 90 70 60 50 70 120 150 190 160
180 160 120 90 80 70 60 70 120 150 240 200
180 160 120 90 80 70
"""
CURITIBA_TMAX = """
- - - - - - - - - 24.5 25.5 26.5
27.5 28.5 29.3 29.5 28.5 26.5 23.5 22 21.8 22.5 24 25.5
26.5 27.5 28.5 29.5 28.5 26.5 23.5 22 21.5 22.3 23.5 24.8
25.8 26.5 27 27 26.5 25 23 21.7 21.5 22.3 23.5 24.8
25.8 26.5 27.2 27.5 26.8 25.3 22.8 21.5 21.3 22.5 24 25.5
26.8 27.8 28.5 29 28 26 23 21.5 21.3 22.5 24 25.5
27 28 29 29.5 28.5 26.3 23.3 22 21.8 22.8 24.2 25.5
26.5 27.2 27.8 27.5 27 25.5 23 21.8 21.5 22.3 23.5 25
26 27 27.8 28 27.3 25.8 23 21.7 21.5 22.5 24 25.5
26.5 27.3 28 28 27.3 25.8 23 21.7 21.5 22.5 23.8 25
26.2 27 27.8 27.8 27 25.5 23 21.8 21.6 22.8 24.3 25.8
27 28 28.5 28.5 27.5 25.8 23 21.8 21.6 22.6 24 25.5
26.5 27.5 28.3 28.5 27.8 26 23.2 22 21.8 22.8 24.3 25.8
27.5 28.5 29.3 29.5 28.3 26
"""
CURITIBA_TMEAN = """
- - - - - - - - - 19.5 20.5 21.5
22 22.6 23 23 22.2 20.5 18 16.8 16.6 17.3 18.6 19.8
20.8 21.6 22.4 23 22.3 20.6 18 16.7 16.4 17.1 18.2 19.3
20.2 20.8 21.3 21.3 20.8 19.5 17.6 16.4 16.3 17 18.2 19.3
20.3 21 21.6 21.8 21.2 19.8 17.5 16.3 16.2 17.2 18.6 19.9
21 21.8 22.4 22.8 22 20.3 17.7 16.3 16.2 17.2 18.6 19.9
21.2 22 22.8 23.2 22.4 20.5 17.9 16.6 16.5 17.5 18.8 20
20.8 21.4 21.9 21.8 21.3 20 17.7 16.5 16.3 17 18.2 19.6
20.5 21.3 21.9 22.1 21.5 20.2 17.7 16.4 16.3 17.2 18.6 19.9
20.8 21.5 22 22.1 21.5 20.2 17.7 16.4 16.3 17.2 18.5 19.6
20.6 21.3 22 22 21.3 20 17.7 16.5 16.4 17.4 18.8 20.1
21.2 22 22.5 22.5 21.7 20.2 17.7 16.5 16.4 17.3 18.6 19.9
20.8 21.6 22.3 22.5 21.9 20.4 17.8 16.6 16.5 17.5 18.8 20.1
21.6 22.4 23 23.2 22.3 20.4
"""
CURITIBA_TMIN = """
- - - - - - - - - 14.5 15.8 16.8
17.3 18 18.3 18.2 17 14.5 11.8 10.8 10.8 11.6 13 14.8
15.8 16.8 17.8 18.5 17.6 15 11.8 10.5 10.3 11 12.4 13.8
14.9 15.8 16.4 16.5 15.8 14 11.6 10.5 10.3 10.9 12.2 13.6
14.9 15.8 16.6 16.9 16.1 14.3 11.4 10.3 10.2 11 12.6 14.2
15.8 16.8 17.6 18.1 17.1 14.8 11.5 10.2 10.1 11 12.6 14.2
16.1 17.1 18 18.5 17.5 15 11.8 10.5 10.4 11.3 12.8 14.3
15.5 16.3 16.9 16.8 16.2 14.5 11.5 10.4 10.2 10.9 12.2 13.8
15.2 16.1 16.9 17.2 16.5 14.7 11.6 10.3 10.2 11.1 12.7 14.3
15.6 16.5 17.1 17.2 16.4 14.7 11.6 10.3 10.2 11.1 12.6 14
15.3 16.2 17 17 16.2 14.4 11.6 10.4 10.3 11.2 12.9 14.5
16.1 17 17.6 17.6 16.6 14.7 11.6 10.4 10.3 11.1 12.6 14.3
15.6 16.6 17.4 17.6 16.8 14.9 11.7 10.5 10.4 11.3 12.9 14.5
16.6 17.6 18.3 18.5 17.3 14.8
"""

PORTOALEGRE_RAIN = """
60 130 140 80 60 150 160 130 180 170 150 160
120 100 100 140 150 120 130 100 120 150 160 170
90 120 150 180 140 120 130 100 110 190 130 160
100 140 120 160 150 170 130 120 140 150 180 130
110 130 160 140 150 170 200 280 150 130 120 140
120 150 140 130 160 120 140 180 160 140 130 150
130 110 150 170 160 140 120 180 250 170 140 130
100 120 140 160 180 150 140 200 180 150 130 120
120 140 160 150 130 170 180 160 150 190 170 140
150 130 140 170 160 150 130 160 200 180 150 140
120 150 130 160 140 170 150 160 170 140 180 150
130 140 150 120 160 170 140 150 220 160 130 120
140 150 130 160 170 150 140 180 230 150 140 130
120 140 150 130 160 240
"""
PORTOALEGRE_TMAX = """
27 28.5 29.5 30.5 31 31.5 30 26 22 20 19.8 20.5
22 23.5 25 27 29 31 31.5 27 23 20.5 20.2 21
22.5 24 25.5 27.5 29.5 30.8 31 27 23.5 21 20 20.8
22 23.5 25 27 29.5 31.5 32 28 24 21 19.5 20.5
22 23.5 25.5 27.5 29.5 31 31.5 27.5 23.5 21 20.5 21
22.5 24 26 28 30 31.5 32 28 24 21.5 20.5 21.2
22.5 24 26 28 29.5 30.8 31 27 23 20.5 20 20.8
22 23.5 25.5 27.5 29.5 30.5 30.5 27 23 20 19.5 20
21.5 23 24.5 26.5 28.5 29.5 29.5 26.5 22.5 20 19.5 20.2
22 23.5 25.5 28 30 31.8 32 28 24 21 20.3 21
22.5 24.5 26.5 29 31.5 33.3 33.5 29 24.5 21.5 20.3 21
22.5 24 26 28.5 30.5 32 32 28 24 21.5 20.5 21
22.5 24.5 26.5 29 31.5 33 33 28.5 24 21.5 20.5 21.5
22.5 24 25.5 27 26 25
"""
PORTOALEGRE_TMEAN = """
21.3 22.5 23.5 24.5 25 25.3 24.5 20.5 17 15 14.5 15
16.5 18 19.5 21.5 23.3 24.8 25.2 21.5 17.5 15.3 14.8 15.5
17 18.5 20 22 23.8 24.8 25 21.5 18 15.5 14.5 15.2
16.5 18 19.5 21.5 23.5 25.2 25.5 22 18.5 15.5 14.3 15
16.5 18 20 22 23.8 25 25.3 21.8 18 15.5 15 15.5
17 18.5 20.5 22.5 24 25.3 25.5 22 18.5 16 15 15.7
17 18.5 20.5 22.5 23.8 24.8 25 21.5 17.5 15.2 14.5 15.2
16.5 18 20 22 23.8 24.5 24.5 21.5 17.5 14.8 14 14.5
16 17.5 19 21 22.8 23.8 23.8 21 17 14.8 14.2 14.8
16.5 18 20 22.5 24.2 25.5 25.7 22.2 18.3 15.5 14.8 15.5
17 19 21 23.3 25.2 26.5 26.7 23 18.8 16 14.8 15.5
17 18.5 20.5 23 24.6 25.8 25.8 22.3 18.5 16 15 15.5
17 19 21 23.3 25.3 26.5 26.5 22.6 18.5 16 15 16
17.5 18.5 19.5 20.5 20.3 19.5
"""
PORTOALEGRE_TMIN = """
16.9 18.3 19.5 20.5 21.3 21.8 20.5 17 13.3 11.1 11.5 12.5
13.5 15 16.5 18.5 20 21.3 21.5 18 14 11.5 11 11.8
13 14.5 16 18 19.8 20.8 21 17.5 14 11.5 10.8 11.5
12.5 14 15.5 17.5 19.5 21 21.3 18 14.5 11.5 10.3 11
12.5 14 16 18 19.8 20.8 21 17.8 14 11.5 11 11.5
13 14.5 16.5 18.5 20 21 21.2 18 14.5 12 11 11.7
13 14.5 16.5 18.5 19.8 20.5 20.5 17.5 13.5 11.2 10.5 11.2
12.5 14 16 18 19.8 20.3 20.3 17.5 13.5 10.8 10 10.5
12 13.5 15 17 18.8 19.8 19.8 17 13 10.5 9.8 10.5
12.5 14 16 18.5 20.2 21.5 21.7 18.2 14.3 11.5 10.8 11.5
13 15 17 19.3 21 22 22.2 18.8 14.8 12 10.8 11.5
13 14.5 16.5 19 20.5 21.5 21.5 18.3 14.5 12 11 11.5
13 15 17 19.3 21 22 22 18.5 14.5 12 11 12
13.5 14.5 15.5 16.5 16.3 15.5
"""

TITLES = ['Manaus', 'Fortaleza', 'Natal',
          'Recife', 'Salvador', 'Brasília',
          'Cuiabá', 'Belo Horizonte', 'Rio de Janeiro',
          'São Paulo', 'Curitiba', 'Porto Alegre']

RAIN = [MANAUS_RAIN, FORTALEZA_RAIN, NATAL_RAIN, RECIFE_RAIN, SALVADOR_RAIN,
        BRASILIA_RAIN, CUIABA_RAIN, BELO_RAIN, RIO_RAIN, SAOPAULO_RAIN,
        CURITIBA_RAIN, PORTOALEGRE_RAIN]
TMAX = [MANAUS_TMAX, FORTALEZA_TMAX, NATAL_TMAX, RECIFE_TMAX, SALVADOR_TMAX,
        BRASILIA_TMAX, CUIABA_TMAX, BELO_TMAX, RIO_TMAX, SAOPAULO_TMAX,
        CURITIBA_TMAX, PORTOALEGRE_TMAX]
TMEAN = [MANAUS_TMEAN, FORTALEZA_TMEAN, NATAL_TMEAN, RECIFE_TMEAN, SALVADOR_TMEAN,
         BRASILIA_TMEAN, CUIABA_TMEAN, BELO_TMEAN, RIO_TMEAN, SAOPAULO_TMEAN,
         CURITIBA_TMEAN, PORTOALEGRE_TMEAN]
TMIN = [MANAUS_TMIN, FORTALEZA_TMIN, NATAL_TMIN, RECIFE_TMIN, SALVADOR_TMIN,
        None, CUIABA_TMIN, BELO_TMIN, RIO_TMIN, SAOPAULO_TMIN,
        CURITIBA_TMIN, PORTOALEGRE_TMIN]

YEAR_LABELS = ['2001', '2003', '2005', '2007', '2009', '2011', '2013']
N_MARKS = 13          # grey mid-year markers, 2001..2013

RED = '#e3211c'
YELLOW = '#ffd92f'
GREEN = '#56a12a'
LIGHTBLUE = '#2ea0e2'
BARBLUE = ['#4a7cb6', '#6f98c8']
GREY = '#aaaaaa'
TICKCOL = '#404040'

W, H = 702, 591
fig = plt.figure(figsize=(W / 100, H / 100), dpi=100)

for n in range(12):
    col, row = n % 3, n // 3
    x0, y0 = col * 234, row * 148

    ax = fig.add_axes([(x0 + 31.7) / W, 1 - (y0 + 127.7) / H, 173.3 / W, 94.4 / H])
    rain = series(RAIN[n])
    months = np.arange(len(rain))
    ax.bar(months, rain, width=0.85, color=[BARBLUE[m % 2] for m in months],
           linewidth=0, zorder=2)
    marks = 6 + 12 * np.arange(N_MARKS)
    for m in marks:
        ax.axvline(m, color=GREY, lw=1.9, zorder=3)
    ax.set_xlim(-0.3, 161.5)
    ax.set_ylim(0, 900)
    ax.set_yticks(np.arange(0, 901, 100))
    ax.set_xticks(marks[::2])
    ax.set_xticklabels(YEAR_LABELS)
    ax.tick_params(length=0, labelsize=6, colors=TICKCOL)
    ax.tick_params(axis='y', pad=1.7)
    ax.tick_params(axis='x', pad=3.6)

    ax2 = ax.twinx()
    tmax = series(TMAX[n])
    tmean = series(TMEAN[n])
    ax2.plot(np.arange(len(tmax)), tmax, color=RED, lw=0.8)
    ax2.plot(np.arange(len(tmean)), tmean, color=YELLOW, lw=0.8)
    if TMIN[n] is not None:
        tmin = series(TMIN[n])
        c3 = LIGHTBLUE if n == 7 else GREEN
        ax2.plot(np.arange(len(tmin)), tmin, color=c3, lw=1.1 if n != 7 else 0.9)
    ax2.set_ylim(0, 40)
    ax2.set_yticks(np.arange(0, 41, 5))
    ax2.tick_params(length=0, labelsize=6, colors=TICKCOL, pad=3)
    ax2.set_xlim(-0.3, 161.5)

    for a in (ax, ax2):
        for s in a.spines.values():
            s.set_visible(False)

    fig.text((x0 + 117) / W, 1 - (y0 + 13.3) / H, TITLES[n], ha='center', va='center',
             fontsize=6.5, fontweight='bold')
    fig.text((x0 + 7.3) / W, 1 - (y0 + 84) / H, 'Precipitation (mm)', rotation=90,
             ha='center', va='center', fontsize=5.8, fontweight='bold')
    fig.text((x0 + 226.7) / W, 1 - (y0 + 81) / H, 'Temperature (° C)', rotation=270,
             ha='center', va='center', fontsize=5.8, fontweight='bold')

# panel frames
for xp in (0.7, 233.5, 467.5, 701.3):
    fig.add_artist(Line2D([xp / W, xp / W], [0, 1], transform=fig.transFigure,
                          color='black', lw=1.3))
for yp in (0.7, 147.5, 295.5, 443.5, 590.3):
    fig.add_artist(Line2D([0, 1], [1 - yp / H, 1 - yp / H], transform=fig.transFigure,
                          color='black', lw=1.3))

fig.savefig('out.png', dpi=100)
